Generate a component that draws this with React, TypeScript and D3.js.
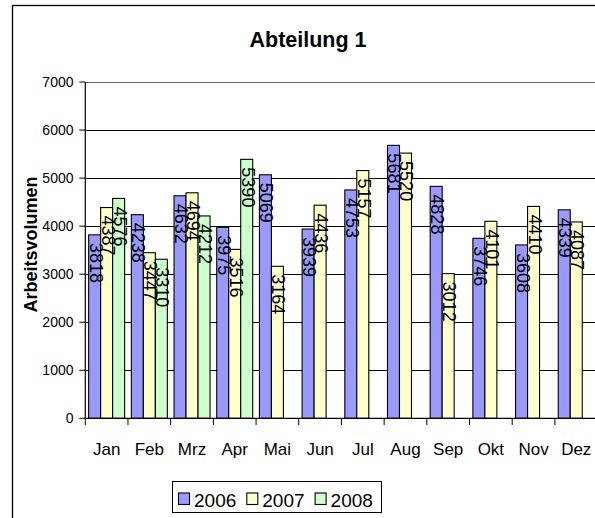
import React from "react";
import * as d3 from "d3";

const months = ["Jan", "Feb", "Mrz", "Apr", "Mai", "Jun", "Jul", "Aug", "Sep", "Okt", "Nov", "Dez"];
const seriesNames = ["2006", "2007", "2008"];
const values2006 = [3818, 4238, 4632, 3975, 5069, 3939, 4753, 5681, 4828, 3746, 3608, 4339];
const values2007 = [4387, 3447, 4694, 3516, 3164, 4436, 5157, 5520, 3012, 4101, 4410, 4087];
const values2008: (number | null)[] = [4576, 3310, 4212, 5390, null, null, null, null, null, null, null, null];
const seriesColors = ["#9999FF", "#FFFFCC", "#CCFFCC"];
const yTicks = [0, 1000, 2000, 3000, 4000, 5000, 6000, 7000];
const titleText = "Abteilung 1";
const yTitle = "Arbeitsvolumen";

const FONT = "'Liberation Sans', Arial, sans-serif";

export default function App() {
  const W = 595;
  const H = 518;
  const plotLeft = 85.3;
  const plotRight = 597.6;
  const plotTop = 82;
  const plotBottom = 418.3;

  const x = d3.scaleBand<string>().domain(months).range([plotLeft, plotRight]).padding(0);
  const bw = x.bandwidth();
  const inner = d3
    .scaleBand<string>()
    .domain(seriesNames)
    .range([bw * 0.0785, bw * 0.9215])
    .padding(0);
  const y = d3.scaleLinear().domain([0, 7000]).range([plotBottom, plotTop]);

  const allSeries = [values2006, values2007, values2008];

  const bars: { m: string; s: string; v: number; i: number }[] = [];
  allSeries.forEach((vals, si) => {
    vals.forEach((v, mi) => {
      if (v != null) bars.push({ m: months[mi], s: seriesNames[si], v: v as number, i: si });
    });
  });

  const boundaries = months.map((m) => x(m) as number).concat([plotRight]);

  return (
    <svg
      width={W}
      height={H}
      style={{ position: "absolute", left: 0, top: 0, background: "#fff" }}
      fontFamily={FONT}
    >
      <rect x={0} y={0} width={W} height={H} fill="#fff" />
      {/* chart frame */}
      <rect x={12.5} y={5.5} width={620} height={600} fill="none" stroke="#000" strokeWidth={1.3} />

      {/* title */}
      <text x={308} y={47} textAnchor="middle" fontSize={21.5} fontWeight="bold" fill="#000">
        {titleText}
      </text>

      {/* gridlines */}
      {yTicks.map((t) => (
        <line
          key={"g" + t}
          x1={plotLeft}
          x2={plotRight}
          y1={Math.round(y(t)) + 0.5}
          y2={Math.round(y(t)) + 0.5}
          stroke={t === 7000 ? "#666" : "#000"}
          strokeWidth={1}
        />
      ))}

      {/* bars */}
      {bars.map((b) => (
        <rect
          key={b.m + b.s}
          x={(x(b.m) as number) + (inner(b.s) as number)}
          y={y(b.v)}
          width={inner.bandwidth()}
          height={plotBottom - y(b.v)}
          fill={seriesColors[b.i]}
          stroke="#000"
          strokeWidth={1.1}
        />
      ))}

      {/* axes */}
      <line x1={plotLeft} x2={plotLeft} y1={plotTop} y2={plotBottom} stroke="#000" strokeWidth={1.2} />
      <line x1={plotLeft} x2={plotRight} y1={plotBottom} y2={plotBottom} stroke="#000" strokeWidth={1.2} />
      {yTicks.map((t) => (
        <g key={"yt" + t}>
          <line x1={plotLeft - 6} x2={plotLeft} y1={y(t)} y2={y(t)} stroke="#000" strokeWidth={1} />
          <text x={73.5} y={y(t) + 5} textAnchor="end" fontSize={14} fill="#000">
            {t}
          </text>
        </g>
      ))}
      {boundaries.map((bx, i) => (
        <line key={"xt" + i} x1={bx} x2={bx} y1={plotBottom} y2={plotBottom + 6.7} stroke="#000" strokeWidth={1} />
      ))}
      {months.map((m) => (
        <text
          key={"xl" + m}
          x={(x(m) as number) + bw / 2}
          y={455}
          textAnchor="middle"
          fontSize={17}
          fill="#000"
        >
          {m}
        </text>
      ))}

      {/* y title */}
      <text
        transform={`translate(36.5, 244.5) rotate(-90)`}
        textAnchor="middle"
        fontSize={18}
        fontWeight="bold"
        fill="#000"
      >
        {yTitle}
      </text>

      {/* data labels */}
      {bars.map((b) => {
        const cx = (x(b.m) as number) + (inner(b.s) as number) + inner.bandwidth() / 2 + 1;
        const ty = y(b.v) + 8;
        return (
          <text
            key={"dl" + b.m + b.s}
            transform={`translate(${cx}, ${ty}) rotate(90)`}
            dominantBaseline="central"
            textAnchor="start"
            fontSize={18}
            fill="#000"
          >
            {b.v}
          </text>
        );
      })}

      {/* legend */}
      <rect x={172.5} y={481.5} width={209} height={31} fill="#fff" stroke="#000" strokeWidth={1} />
      {seriesNames.map((s, i) => {
        const lx = 178.5 + i * 68.3;
        return (
          <g key={"lg" + s}>
            <rect x={lx} y={493} width={11} height={11.5} fill={seriesColors[i]} stroke="#000" strokeWidth={1.1} />
            <text x={lx + 15.5} y={506.5} fontSize={19} fill="#000">
              {s}
            </text>
          </g>
        );
      })}
    </svg>
  );
}
